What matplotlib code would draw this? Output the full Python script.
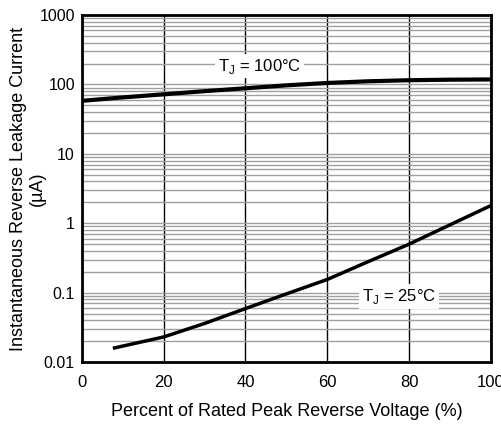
import matplotlib
matplotlib.use("Agg")
import matplotlib.pyplot as plt
from matplotlib.ticker import FixedLocator, LogLocator, NullFormatter

plt.rcParams["font.family"] = ["Liberation Sans", "DejaVu Sans"]

# percent of rated peak reverse voltage
v_100 = [0, 10, 20, 30, 40, 50, 60, 70, 80, 90, 100]
i_100 = [58, 65, 72, 80, 88, 97, 105, 111, 115, 117, 118]  # uA at TJ=100C

v_25 = [8, 20, 30, 40, 50, 60, 70, 80, 90, 100]
i_25 = [0.016, 0.023, 0.036, 0.059, 0.096, 0.155, 0.28, 0.50, 0.95, 1.8]  # uA at TJ=25C

x_ticks = [0, 20, 40, 60, 80, 100]
y_ticks = [0.01, 0.1, 1, 10, 100, 1000]
y_labels = ["0.01", "0.1", "1", "10", "100", "1000"]

fig = plt.figure(figsize=(5.02, 4.29), dpi=100)
ax = fig.add_axes([0.163, 0.156, 0.815, 0.809])

ax.set_yscale("log")
ax.set_xlim(0, 100)
ax.set_ylim(0.01, 1000)

# grid
ax.yaxis.set_minor_locator(LogLocator(base=10, subs=range(2, 10)))
ax.yaxis.set_minor_formatter(NullFormatter())
ax.grid(which="minor", axis="y", color="#a0a0a0", linewidth=1.0)
ax.grid(which="major", axis="y", color="#a0a0a0", linewidth=1.0)
ax.xaxis.set_major_locator(FixedLocator(x_ticks))
ax.grid(which="major", axis="x", color="black", linewidth=1.0)

ax.plot(v_100, i_100, color="black", linewidth=3)
ax.plot(v_25, i_25, color="black", linewidth=2.5)

ax.set_xticks(x_ticks)
ax.set_xticklabels([str(t) for t in x_ticks])
ax.set_yticks(y_ticks)
ax.set_yticklabels(y_labels)
ax.tick_params(which="both", length=0)
ax.tick_params(axis="x", labelsize=12, pad=9)
ax.tick_params(axis="y", labelsize=11.5, pad=5)

for s in ax.spines.values():
    s.set_linewidth(2)

box = dict(facecolor="white", edgecolor="none", pad=2)
ax.text(43.5, 184, r"T$_\mathregular{J}$ = 100°C", fontsize=12, ha="center",
        va="center", bbox=box)
ax.text(77.5, 0.089, r"T$_\mathregular{J}$ = 25°C", fontsize=12, ha="center",
        va="center", bbox=box)

ax.set_xlabel("Percent of Rated Peak Reverse Voltage (%)", fontsize=13, labelpad=10)
ax.set_ylabel("Instantaneous Reverse Leakage Current\n(µA)", fontsize=13,
              linespacing=1.15)
ax.yaxis.set_label_coords(-0.088, 0.5)

fig.savefig("out.png", dpi=100)
